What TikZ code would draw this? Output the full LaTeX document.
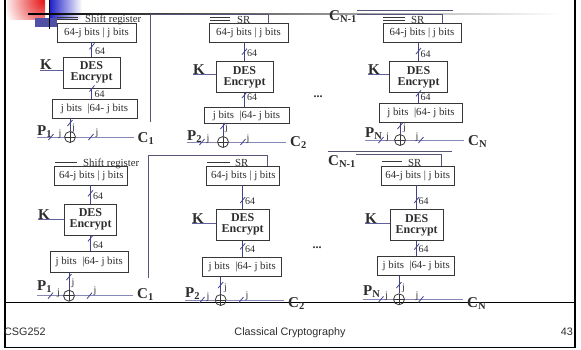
\documentclass[tikz,border=0pt]{standalone}
\usepackage{fontspec}
\setmainfont{Liberation Serif}
\newfontfamily\footfont{Liberation Sans}
\usepackage{tikz}
\usetikzlibrary{positioning, calc}
\definecolor{boxgray}{RGB}{55,55,55}
\definecolor{textgray}{RGB}{45,45,45}
\definecolor{wirenavy}{RGB}{65,65,140}
\definecolor{keyblue}{RGB}{95,95,155}
\definecolor{datalav}{RGB}{135,135,185}
\definecolor{fbgray}{RGB}{85,85,120}
\definecolor{logored}{RGB}{230,25,25}
\definecolor{logoblue}{RGB}{35,35,200}
\definecolor{logopurple}{RGB}{80,80,165}
% slash across a bus wire
\newcommand{\busmark}[1]{\draw[wire] ([shift={(-2.5,3)}]#1) -- ([shift={(2.5,-3)}]#1);}

\begin{document}
\begin{tikzpicture}[x=1pt, y=-1pt,
  reg/.style={draw=boxgray, line width=0.9pt, text=textgray, font=\fontsize{10.8}{12}\selectfont, minimum height=19pt, inner sep=0pt},
  des/.style={draw=boxgray, line width=0.9pt, text=textgray, font=\fontsize{12}{11}\selectfont\bfseries, align=center, minimum width=57pt, minimum height=31pt, inner sep=0pt},
  xor/.style={circle, draw=boxgray, line width=0.8pt, minimum size=11pt, inner sep=0pt,
    path picture={\draw[boxgray, line width=0.8pt] (path picture bounding box.north) -- (path picture bounding box.south) (path picture bounding box.west) -- (path picture bounding box.east);}},
  lbl/.style={text=textgray, font=\fontsize{15}{15}\selectfont\bfseries, inner sep=0pt},
  clbl/.style={lbl, anchor=base west, inner xsep=4pt},
  bits/.style={text=textgray, font=\fontsize{10}{10}\selectfont, inner sep=0pt, anchor=base west},
  srlbl/.style={text=textgray, font=\fontsize{10.8}{12}\selectfont, inner sep=0pt, anchor=base west},
  foot/.style={text=textgray, font=\footfont\fontsize{10.8}{12}\selectfont, inner sep=0pt},
  wire/.style={wirenavy, line width=0.8pt},
  keyline/.style={keyblue, line width=0.9pt},
  dataline/.style={datalav, line width=1pt},
  fbline/.style={fbgray, line width=0.8pt},
  srline/.style={boxgray, line width=0.6pt}]
\useasboundingbox (0,0) rectangle (581,349);

% slide corner logo
\begin{scope}
\clip (7,0) rectangle (45,19);
\shade[inner color=logored, outer color=white] (43,1) circle (40);
\end{scope}
\shade[left color=logoblue, right color=white] (50,0) rectangle (82,18);
\fill[logopurple] (35,18) rectangle (57,27);
\shade[left color=black, right color=white] (28,13.2) rectangle (560,14.8);
\draw[black, line width=1.6pt] (49.5,0) -- (49.5,29);

% slide frame and footer
\draw[black, line width=1.8pt] (5,0) -- (5,347.5) -- (575,347.5) -- (575,0);
\draw[black, line width=1pt] (5,302.3) -- (575,302.3);
\node[foot, anchor=base west] (ftL) at (4,335.5) {CSG252};
\node[foot, anchor=base] (ftC) at (290,335.5) {Classical Cryptography};
\node[foot, anchor=base east] (ftR) at (573,335.5) {43};

% ---- top row, stage 1 ----
\node[srlbl] (srA1) at (85,22.5) {Shift register};
\draw[srline] ([shift={(-7,-5.5)}]srA1.base west) -- ++(-21,0);
\draw[srline] ([shift={(-7,-3)}]srA1.base west) -- ++(-21,0);
\node[reg, minimum width=79pt] (upA1) at (96.5,32.5) {64-j bits | j bits};
\node[des] (desA1) at (91.5,72.5) {DES\\Encrypt};
\node[reg, minimum width=85pt] (loA1) at (94.5,108.5) {j bits \ |64- j bits};
\node[xor] (xA1) at (70,137) {};
\node[lbl, anchor=south west] (kA1) at (40,70) {K};
\node[lbl, anchor=base west] (pA1) at (37,135) {P\textsubscript{1}};
\node[clbl] (cA1) at (133.5,142) {C\textsubscript{1}};
\draw[wire] (desA1.north |- upA1.south) -- (desA1.north);
\draw[wire] (desA1.south) -- (desA1.south |- loA1.north);
\draw[wire] (xA1 |- loA1.south) -- (xA1.north);
\draw[keyline] (kA1.south west) -- (kA1.south west -| desA1.west);
\draw[dataline] (pA1.base west |- xA1) -- (xA1.west);
\draw[dataline] (xA1.east) -- (cA1.west |- xA1);
\coordinate (muA1) at (92,46.3);
\coordinate (mlA1) at (92,88.5);
\coordinate (mxA1) at (70,123);
\coordinate (mpA1) at (51,137);
\coordinate (moA1) at (91,137);
\busmark{muA1} \busmark{mlA1} \busmark{mxA1} \busmark{mpA1} \busmark{moA1}
\node[bits] (nuA1) at (95,54) {64};
\node[bits] (nlA1) at (94.5,97) {64};
\node[bits] (jxA1) at (72,130) {j};
\node[bits] (jpA1) at (58.5,136) {j};
\node[bits] (joA1) at (95.5,135) {j};

% ---- top row, stage 2 ----
\node[srlbl] (srA2) at (237,23) {SR};
\draw[srline] ([shift={(-7,-5.5)}]srA2.base west) -- ++(-20,0);
\draw[srline] ([shift={(-7,-3)}]srA2.base west) -- ++(-20,0);
\node[reg, minimum width=79pt] (upA2) at (248.5,33) {64-j bits | j bits};
\node[des] (desA2) at (244.5,77) {DES\\Encrypt};
\node[reg, minimum width=85pt, minimum height=16pt] (loA2) at (246.5,115.5) {j bits \ |64- j bits};
\node[xor] (xA2) at (223,142) {};
\node[lbl, anchor=south west] (kA2) at (193,74.5) {K};
\node[lbl, anchor=base west] (pA2) at (187,140) {P\textsubscript{2}};
\node[clbl] (cA2) at (286,146.5) {C\textsubscript{2}};
\draw[wire] (desA2.north |- upA2.south) -- (desA2.north);
\draw[wire] (desA2.south) -- (desA2.south |- loA2.north);
\draw[wire] (xA2 |- loA2.south) -- (xA2.north);
\draw[keyline] (kA2.south west) -- (kA2.south west -| desA2.west);
\draw[dataline] (pA2.base west |- xA2) -- (xA2.west);
\draw[dataline] (xA2.east) -- (cA2.west |- xA2);
\coordinate (muA2) at (244.5,51.7);
\coordinate (mlA2) at (244.5,95);
\coordinate (mxA2) at (223,126);
\coordinate (mpA2) at (202,142);
\coordinate (moA2) at (243,142);
\busmark{muA2} \busmark{mlA2} \busmark{mxA2} \busmark{mpA2} \busmark{moA2}
\node[bits] (nuA2) at (247,56.7) {64};
\node[bits] (nlA2) at (247,100) {64};
\node[bits] (jxA2) at (225,130) {j};
\node[bits] (jpA2) at (206.5,141) {j};
\node[bits] (joA2) at (246.5,141) {j};
\coordinate (fbA2) at (150,122);
\coordinate (tapA2) at (268,14);
\draw[fbline] (fbA2) -- (fbA2 |- tapA2) -- (tapA2) -- (tapA2 |- upA2.north);
\node[lbl, font=\fontsize{12}{12}\selectfont\bfseries, anchor=base] (dotsA) at (318,97) {...};

% ---- top row, stage N ----
\node[lbl, anchor=base west] (cnA3) at (329,20) {C\textsubscript{N-1}};
\node[srlbl] (srA3) at (411,23) {SR};
\draw[srline] ([shift={(-6,-5.5)}]srA3.base west) -- ++(-22,0);
\draw[srline] ([shift={(-6,-3)}]srA3.base west) -- ++(-22,0);
\node[reg, minimum width=78pt] (upA3) at (422,32.8) {64-j bits | j bits};
\node[des, minimum width=58pt] (desA3) at (418.5,77) {DES\\Encrypt};
\node[reg, minimum width=83pt] (loA3) at (421,113) {j bits \ |64- j bits};
\node[xor] (xA3) at (400,140) {};
\node[lbl, anchor=south west] (kA3) at (368,74.5) {K};
\node[lbl, anchor=base west] (pA3) at (365,137) {P\textsubscript{N}};
\node[clbl] (cA3) at (464,145) {C\textsubscript{N}};
\draw[wire] (desA3.north |- upA3.south) -- (desA3.north);
\draw[wire] (desA3.south) -- (desA3.south |- loA3.north);
\draw[wire] (xA3 |- loA3.south) -- (xA3.north);
\draw[keyline] (kA3.south west) -- (kA3.south west -| desA3.west);
\draw[dataline] (pA3.base west |- xA3) -- (xA3.west);
\draw[dataline] (xA3.east) -- (cA3.west |- xA3);
\coordinate (muA3) at (418.5,51);
\coordinate (mlA3) at (418.5,93.3);
\coordinate (mxA3) at (400,126);
\coordinate (mpA3) at (381,140);
\coordinate (moA3) at (421,140);
\busmark{muA3} \busmark{mlA3} \busmark{mxA3} \busmark{mpA3} \busmark{moA3}
\node[bits] (nuA3) at (420.5,57) {64};
\node[bits] (nlA3) at (420.5,100.5) {64};
\node[bits] (jxA3) at (403,130) {j};
\node[bits] (jpA3) at (386,139.5) {j};
\node[bits] (joA3) at (415.5,139.5) {j};
\coordinate (tapA3) at (442,14);
\draw[fbline] (cnA3.east |- tapA3) -- (tapA3) -- (tapA3 |- upA3.north);
\coordinate (olA3) at (453,10);
\draw[fbline] (cnA3.east |- olA3) -- (olA3);

% ---- bottom row, stage 1 ----
\node[srlbl] (srB1) at (83,166) {Shift register};
\draw[srline] ([shift={(-6,-3.5)}]srB1.base west) -- ++(-22,0);
\node[reg, minimum width=73pt] (upB1) at (91.3,175.5) {64-j bits | j bits};
\node[des, minimum width=52.5pt] (desB1) at (90.5,219.7) {DES\\Encrypt};
\node[reg, minimum width=78pt, minimum height=21pt] (loB1) at (89.2,262.2) {j bits \ |64- j bits};
\node[xor] (xB1) at (69,295.7) {};
\node[lbl, anchor=south west] (kB1) at (38,219.3) {K};
\node[lbl, anchor=base west] (pB1) at (37,290) {P\textsubscript{1}};
\node[clbl] (cB1) at (133,298) {C\textsubscript{1}};
\draw[wire] (desB1.north |- upB1.south) -- (desB1.north);
\draw[wire] (desB1.south) -- (desB1.south |- loB1.north);
\draw[wire] (xB1 |- loB1.south) -- (xB1.north);
\draw[keyline] (kB1.south west) -- (kB1.south west -| desB1.west);
\draw[dataline] (pB1.base west |- xB1) -- (xB1.west);
\draw[dataline] (xB1.east) -- (cB1.west |- xB1);
\coordinate (muB1) at (90.5,193.3);
\coordinate (mlB1) at (90.5,238.3);
\coordinate (mxB1) at (69,277);
\coordinate (mpB1) at (50.5,295.7);
\coordinate (moB1) at (89.5,295.7);
\busmark{muB1} \busmark{mlB1} \busmark{mxB1} \busmark{mpB1} \busmark{moB1}
\node[bits] (nuB1) at (93,199) {64};
\node[bits] (nlB1) at (93,248) {64};
\node[bits] (jxB1) at (71.5,285) {j};
\node[bits] (jpB1) at (57,295) {j};
\node[bits] (joB1) at (93.5,293) {j};

% ---- bottom row, stage 2 ----
\node[srlbl] (srB2) at (235,166) {SR};
\draw[srline] ([shift={(-5,-3.7)}]srB2.base west) -- ++(-23,0);
\node[reg, minimum width=73pt] (upB2) at (243.3,175.5) {64-j bits | j bits};
\node[des, minimum width=53pt] (desB2) at (242.7,224.7) {DES\\Encrypt};
\node[reg, minimum width=79pt] (loB2) at (242.2,266.7) {j bits \ |64- j bits};
\node[xor] (xB2) at (220.7,300) {};
\node[lbl, anchor=south west] (kB2) at (192,223.8) {K};
\node[lbl, anchor=base west] (pB2) at (185,297.5) {P\textsubscript{2}};
\node[clbl] (cB2) at (284,307) {C\textsubscript{2}};
\draw[wire] (desB2.north |- upB2.south) -- (desB2.north);
\draw[wire] (desB2.south) -- (desB2.south |- loB2.north);
\draw[wire] (xB2 |- loB2.south) -- (xB2.north);
\draw[keyline] (kB2.south west) -- (kB2.south west -| desB2.west);
\draw[dataline] (pB2.base west |- xB2) -- (xB2.west);
\draw[dataline] (xB2.east) -- (cB2.west |- xB2);
\coordinate (muB2) at (242.7,200);
\coordinate (mlB2) at (242.7,246.3);
\coordinate (mxB2) at (220.7,285);
\coordinate (mpB2) at (202,300);
\coordinate (moB2) at (241,300);
\busmark{muB2} \busmark{mlB2} \busmark{mxB2} \busmark{mpB2} \busmark{moB2}
\node[bits] (nuB2) at (245,204) {64};
\node[bits] (nlB2) at (245,252) {64};
\node[bits] (jxB2) at (224,290) {j};
\node[bits] (jpB2) at (206.5,299) {j};
\node[bits] (joB2) at (245.5,298) {j};
\coordinate (fbB2) at (148,278);
\coordinate (tapB2) at (267,155);
\draw[fbline] (fbB2) -- (fbB2 |- tapB2) -- (tapB2) -- (tapB2 |- upB2.north);
\node[lbl, font=\fontsize{12}{12}\selectfont\bfseries, anchor=base] (dotsB) at (317,248) {...};

% ---- bottom row, stage N ----
\node[lbl, anchor=base west] (cnB3) at (328,165) {C\textsubscript{N-1}};
\node[srlbl] (srB3) at (408,166) {SR};
\draw[srline] ([shift={(-6.3,-4.3)}]srB3.base west) -- ++(-20,0);
\node[reg, minimum width=73pt] (upB3) at (417.7,175.5) {64-j bits | j bits};
\node[des, minimum width=53pt] (desB3) at (416.7,225) {DES\\Encrypt};
\node[reg, minimum width=77pt] (loB3) at (416.3,266.3) {j bits \ |64- j bits};
\node[xor] (xB3) at (399,299.3) {};
\node[lbl, anchor=south west] (kB3) at (365,223.8) {K};
\node[lbl, anchor=base west] (pB3) at (363,295) {P\textsubscript{N}};
\node[clbl] (cB3) at (463,307) {C\textsubscript{N}};
\draw[wire] (desB3.north |- upB3.south) -- (desB3.north);
\draw[wire] (desB3.south) -- (desB3.south |- loB3.north);
\draw[wire] (xB3 |- loB3.south) -- (xB3.north);
\draw[keyline] (kB3.south west) -- (kB3.south west -| desB3.west);
\draw[dataline] (pB3.base west |- xB3) -- (xB3.west);
\draw[dataline] (xB3.east) -- (cB3.west |- xB3);
\coordinate (muB3) at (416.7,200);
\coordinate (mlB3) at (416.7,246.7);
\coordinate (mxB3) at (399,285);
\coordinate (mpB3) at (381,299.3);
\coordinate (moB3) at (421,299.3);
\busmark{muB3} \busmark{mlB3} \busmark{mxB3} \busmark{mpB3} \busmark{moB3}
\node[bits] (nuB3) at (418.5,204) {64};
\node[bits] (nlB3) at (418.5,252) {64};
\node[bits] (jxB3) at (402,290) {j};
\node[bits] (jpB3) at (385,298) {j};
\node[bits] (joB3) at (415.5,298) {j};
\coordinate (tapB3) at (441,154);
\draw[fbline] (cnB3.east |- tapB3) -- (tapB3) -- (tapB3 |- upB3.north);
\coordinate (olB3) at (452,151.5);
\draw[fbline] (cnB3.west |- olB3) -- (olB3);

\end{tikzpicture}
\end{document}
